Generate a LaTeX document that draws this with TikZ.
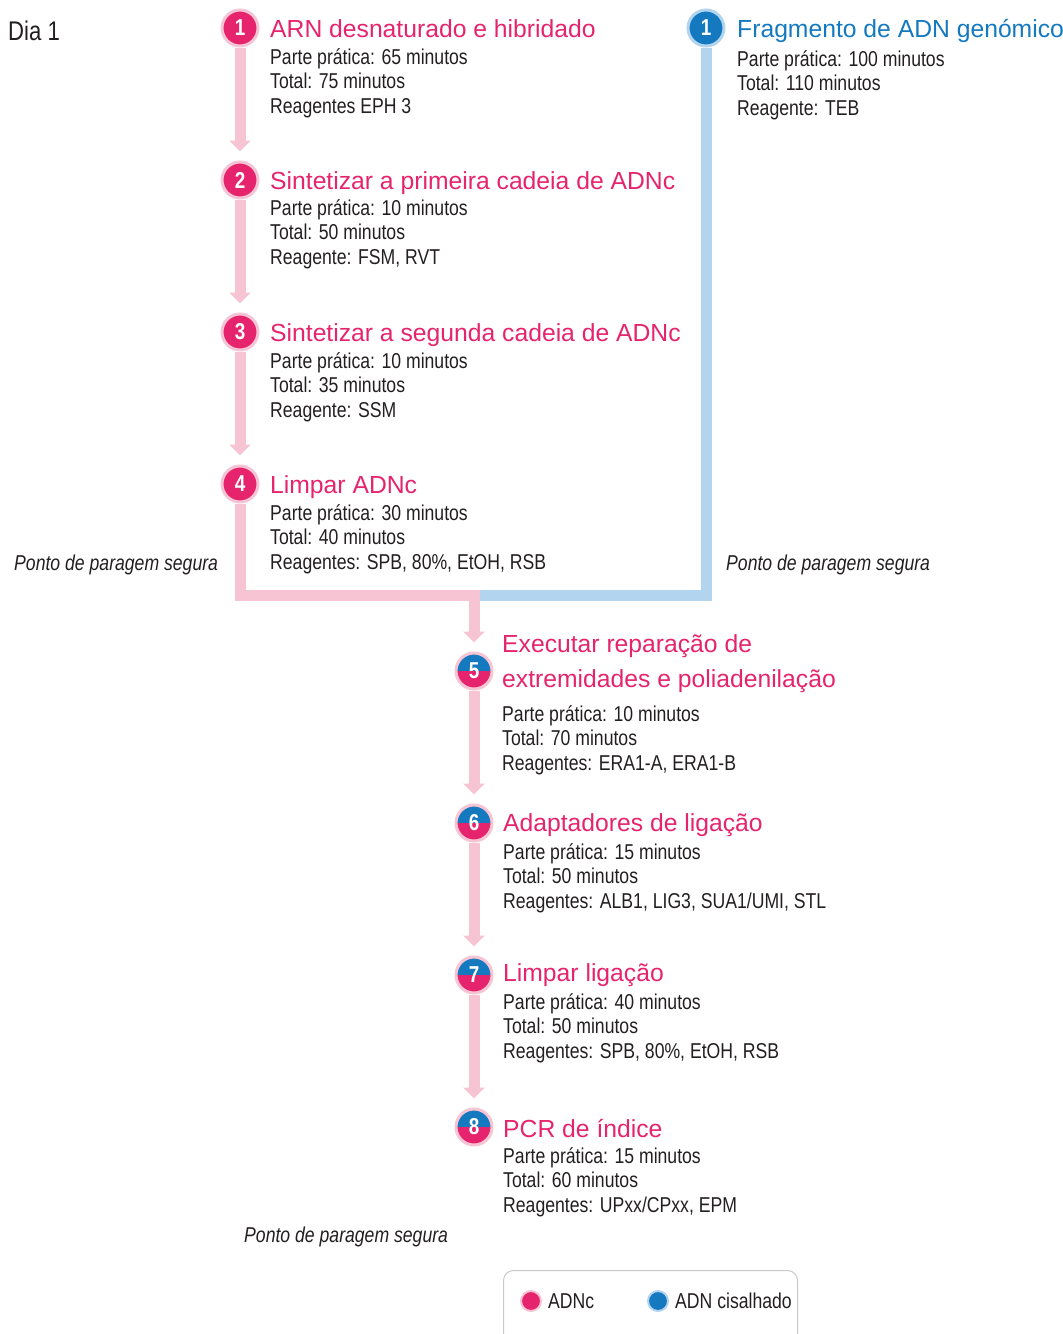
\documentclass[tikz,border=0pt]{standalone}
\usepackage{fontspec}
\setmainfont{Liberation Sans}
\newfontfamily\bodyfont[FakeStretch=0.82]{Liberation Sans}
\usetikzlibrary{arrows.meta}
\definecolor{adnpink}{RGB}{230,36,110}
\definecolor{lightpink}{RGB}{247,196,211}
\definecolor{adnblue}{RGB}{20,121,191}
\definecolor{lightblue}{RGB}{179,212,238}
\definecolor{darktext}{RGB}{35,31,32}
\begin{document}
\begin{tikzpicture}[x=1pt,y=-1pt,
        pinkline/.style={draw=lightpink,line width=11pt},
        blueline/.style={draw=lightblue,line width=11pt},
        tip/.style={-{Triangle[width=21pt,length=11pt]},shorten >=9pt},
        title/.style={anchor=base west,inner sep=0pt,text=adnpink,
                font=\fontsize{24.7}{35}\selectfont,align=left},
        info/.style={anchor=base west,inner sep=0pt,text=darktext,align=left,
                font=\bodyfont\fontsize{21.5}{24.5}\selectfont},
        stopnote/.style={anchor=base west,inner sep=0pt,text=darktext,
                font=\bodyfont\itshape\fontsize{21.5}{24.5}\selectfont}]
        \useasboundingbox (0,0) rectangle (1063,1334);

        \node[anchor=base west,inner sep=0pt,text=darktext,
                font=\bodyfont\fontsize{27}{27}\selectfont] (dia) at (8,40) {Dia 1};

        \begin{scope}[every node/.style={circle,fill=adnpink,draw=lightpink,
                        line width=3pt,inner sep=0pt,minimum size=36pt,text=white,
                        font=\bodyfont\bfseries\fontsize{23}{23}\selectfont}]
        \node (c1) at (240,28) {1};
        \node (c2) at (240,180) {2};
        \node (c3) at (240,332) {3};
        \node (c4) at (240,484) {4};
        \node[fill=adnblue,draw=lightblue] (b1) at (706,28) {1};
        \end{scope}
        \begin{scope}[every node/.style={circle,fill=adnpink,draw=lightpink,
                        line width=3pt,inner sep=0pt,minimum size=36pt,text=white,
                        font=\bodyfont\bfseries\fontsize{23}{23}\selectfont,
                        path picture={\fill[adnblue] (path picture bounding box.north west)
                                rectangle (path picture bounding box.east);}}]
        \node (c5) at (474,671) {5};
        \node (c6) at (474,823) {6};
        \node (c7) at (474,975) {7};
        \node (c8) at (474,1127) {8};
        \end{scope}

        % connectors
        \draw[pinkline,tip] (c1) -- (c2);
        \draw[pinkline,tip] (c2) -- (c3);
        \draw[pinkline,tip] (c3) -- (c4);
        \coordinate (merge) at (474,595);
        \coordinate (mergeR) at (480,595);
        \draw[blueline] (b1) |- (mergeR);
        \draw[pinkline] (c4) |- (mergeR);
        \draw[pinkline,tip] (merge) -- (c5);
        \draw[pinkline,tip] (c5) -- (c6);
        \draw[pinkline,tip] (c6) -- (c7);
        \draw[pinkline,tip] (c7) -- (c8);

        % steps (base of a block = its last line)
        \node[title] (t1) at (270,37) {ARN desnaturado e hibridado};
        \node[info] (i1) at (270,113) {Parte prática: 65 minutos\\Total: 75 minutos\\Reagentes EPH 3};
        \node[title] (t2) at (270,189) {Sintetizar a primeira cadeia de ADNc};
        \node[info] (i2) at (270,264) {Parte prática: 10 minutos\\Total: 50 minutos\\Reagente: FSM, RVT};
        \node[title] (t3) at (270,341) {Sintetizar a segunda cadeia de ADNc};
        \node[info] (i3) at (270,417) {Parte prática: 10 minutos\\Total: 35 minutos\\Reagente: SSM};
        \node[title] (t4) at (270,493) {Limpar ADNc};
        \node[info] (i4) at (270,569) {Parte prática: 30 minutos\\Total: 40 minutos\\Reagentes: SPB, 80\%, EtOH, RSB};
        \node[title,text=adnblue] (tb1) at (737,37) {Fragmento de ADN genómico};
        \node[info] (ib1) at (737,115) {Parte prática: 100 minutos\\Total: 110 minutos\\Reagente: TEB};
        \node[title] (t5) at (502,687) {Executar reparação de\\extremidades e poliadenilação};
        \node[info] (i5) at (502,770) {Parte prática: 10 minutos\\Total: 70 minutos\\Reagentes: ERA1-A, ERA1-B};
        \node[title] (t6) at (503,831) {Adaptadores de ligação};
        \node[info] (i6) at (503,908) {Parte prática: 15 minutos\\Total: 50 minutos\\Reagentes: ALB1, LIG3, SUA1/UMI, STL};
        \node[title] (t7) at (503,981) {Limpar ligação};
        \node[info] (i7) at (503,1058) {Parte prática: 40 minutos\\Total: 50 minutos\\Reagentes: SPB, 80\%, EtOH, RSB};
        \node[title] (t8) at (503,1137) {PCR de índice};
        \node[info] (i8) at (503,1212) {Parte prática: 15 minutos\\Total: 60 minutos\\Reagentes: UPxx/CPxx, EPM};

        % safe stopping points
        \node[stopnote] (s1) at (14,570) {Ponto de paragem segura};
        \node[stopnote] (s2) at (726,570) {Ponto de paragem segura};
        \node[stopnote] (s3) at (244,1242) {Ponto de paragem segura};

        % legend
        \node[draw=black!22,line width=1pt,rounded corners=10pt,minimum width=294pt,
                minimum height=84pt,anchor=north west] (legend) at (503,1270) {};
        \node[circle,fill=adnpink,draw=lightpink,line width=2pt,minimum size=20pt,
                inner sep=0pt] (kpink) at (531,1301) {};
        \node[circle,fill=adnblue,draw=lightblue,line width=2pt,minimum size=20pt,
                inner sep=0pt] (kblue) at (658,1301) {};
        \node[info,anchor=west] (lpink) at (548,1301) {ADNc};
        \node[info,anchor=west] (lblue) at (675,1301) {ADN cisalhado};
\end{tikzpicture}
\end{document}
